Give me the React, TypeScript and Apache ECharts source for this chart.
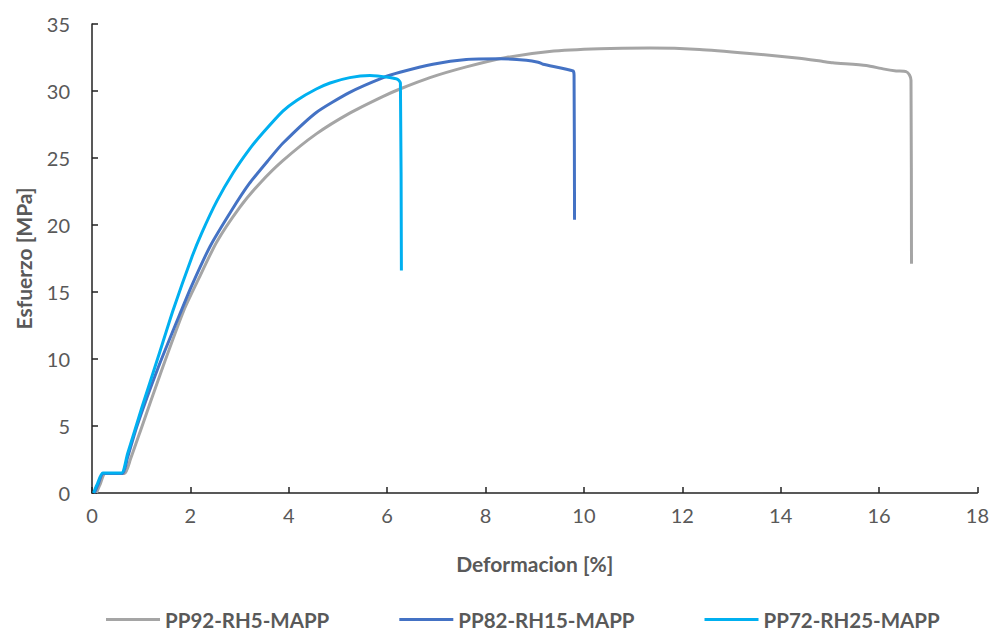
import React, { useEffect, useRef } from "react";
import * as echarts from "echarts";

const seriesNames = ["PP92-RH5-MAPP", "PP82-RH15-MAPP", "PP72-RH25-MAPP"];
const seriesColors = ["#A5A5A5", "#4472C4", "#00B0F0"];

const strainPP92 = [0.09, 0.16, 0.27, 0.66, 0.78, 1.0, 1.4, 1.87, 2.17, 2.53, 3.0, 3.41, 3.88, 4.56, 5.24, 5.92, 6.26, 6.87, 7.61, 8.42, 9.3, 10.32, 11.34, 12.35, 13.37, 14.38, 14.86, 15.06, 15.74, 16.08, 16.35, 16.55, 16.62, 16.65, 16.66];
const stressPP92 = [0, 0.6, 1.45, 1.45, 2.5, 4.8, 9.0, 13.66, 16.0, 18.7, 21.3, 23.1, 24.8, 26.8, 28.35, 29.6, 30.15, 31.0, 31.8, 32.5, 32.95, 33.15, 33.2, 33.1, 32.8, 32.45, 32.2, 32.1, 31.9, 31.65, 31.5, 31.45, 31.2, 30.8, 17.1];

const strainPP82 = [0.05, 0.12, 0.23, 0.62, 0.72, 0.91, 1.35, 1.82, 2.03, 2.4, 2.84, 3.2, 3.6, 3.88, 4.56, 5.24, 5.92, 6.26, 6.93, 7.61, 8.29, 8.83, 9.07, 9.17, 9.78, 9.8, 9.81];
const stressPP82 = [0, 0.6, 1.45, 1.45, 2.6, 4.95, 9.4, 13.66, 15.5, 18.4, 21.1, 23.1, 24.9, 26.1, 28.4, 29.9, 31.0, 31.4, 32.0, 32.35, 32.4, 32.3, 32.15, 32.0, 31.5, 31.2, 20.4];

const strainPP72 = [0.03, 0.1, 0.22, 0.6, 0.72, 1.02, 1.35, 1.65, 2.03, 2.23, 2.54, 2.87, 3.21, 3.48, 3.88, 4.16, 4.56, 4.84, 5.24, 5.65, 6.05, 6.22, 6.27, 6.29];
const stressPP72 = [0, 0.6, 1.49, 1.49, 2.9, 6.45, 10.2, 13.66, 17.6, 19.4, 21.8, 23.9, 25.7, 26.9, 28.5, 29.3, 30.15, 30.6, 31.0, 31.15, 31.0, 30.85, 30.6, 16.6];

const xTicks = { min: 0, max: 18, interval: 2 };
const yTicks = { min: 0, max: 35, interval: 5 };

const FONT = "Lato, 'Noto Sans', sans-serif";

function pairs(xs: number[], ys: number[]) {
  return xs.map((x, i) => [x, ys[i]]);
}

export default function App() {
  const ref = useRef<HTMLDivElement>(null);
  useEffect(() => {
    if (!ref.current) return;
    const chart = echarts.init(ref.current, null, { renderer: "svg" });
    const datasets = [
      pairs(strainPP92, stressPP92),
      pairs(strainPP82, stressPP82),
      pairs(strainPP72, stressPP72),
    ];
    chart.setOption({
      animation: false,
      backgroundColor: "#ffffff",
      textStyle: { fontFamily: FONT },
      grid: { left: 92, right: 14, top: 24, bottom: 139, containLabel: false },
      legend: {
        left: 106,
        top: 609,
        padding: 0,
        icon: "rect",
        itemWidth: 54,
        itemHeight: 3,
        itemGap: 70,
        textStyle: { fontFamily: FONT, fontSize: 20.5, fontWeight: "bold", color: "#595959", padding: [0, 0, 0, 0] },
        data: seriesNames,
      },
      xAxis: {
        type: "value",
        min: xTicks.min,
        max: xTicks.max,
        interval: xTicks.interval,
        name: "Deformacion [%]",
        nameLocation: "middle",
        nameGap: 60,
        nameTextStyle: { fontFamily: FONT, fontSize: 21, fontWeight: "bold", color: "#595959" },
        axisLine: { show: true, lineStyle: { color: "#222", width: 1.5 } },
        axisTick: { show: true, inside: true, length: 6, lineStyle: { color: "#222", width: 1.5 } },
        axisLabel: { fontFamily: FONT, fontSize: 20, color: "#595959", margin: 12 },
        splitLine: { show: false },
      },
      yAxis: {
        type: "value",
        min: yTicks.min,
        max: yTicks.max,
        interval: yTicks.interval,
        name: "Esfuerzo [MPa]",
        nameLocation: "middle",
        nameGap: 58,
        nameTextStyle: { fontFamily: FONT, fontSize: 21, fontWeight: "bold", color: "#595959" },
        axisLine: { show: true, lineStyle: { color: "#222", width: 1.5 } },
        axisTick: { show: true, inside: true, length: 6, lineStyle: { color: "#222", width: 1.5 } },
        axisLabel: { fontFamily: FONT, fontSize: 20, color: "#595959", margin: 22 },
        splitLine: { show: false },
      },
      series: seriesNames.map((name, i) => ({
        name,
        type: "line",
        data: datasets[i],
        showSymbol: false,
        symbol: "none",
        smooth: 0.2,
        lineStyle: { color: seriesColors[i], width: 3 },
        itemStyle: { color: seriesColors[i] },
        z: 2 + i,
      })),
    });
    return () => chart.dispose();
  }, []);
  return <div ref={ref} style={{ width: 992, height: 632, position: "absolute", left: 0, top: 0 }} />;
}
